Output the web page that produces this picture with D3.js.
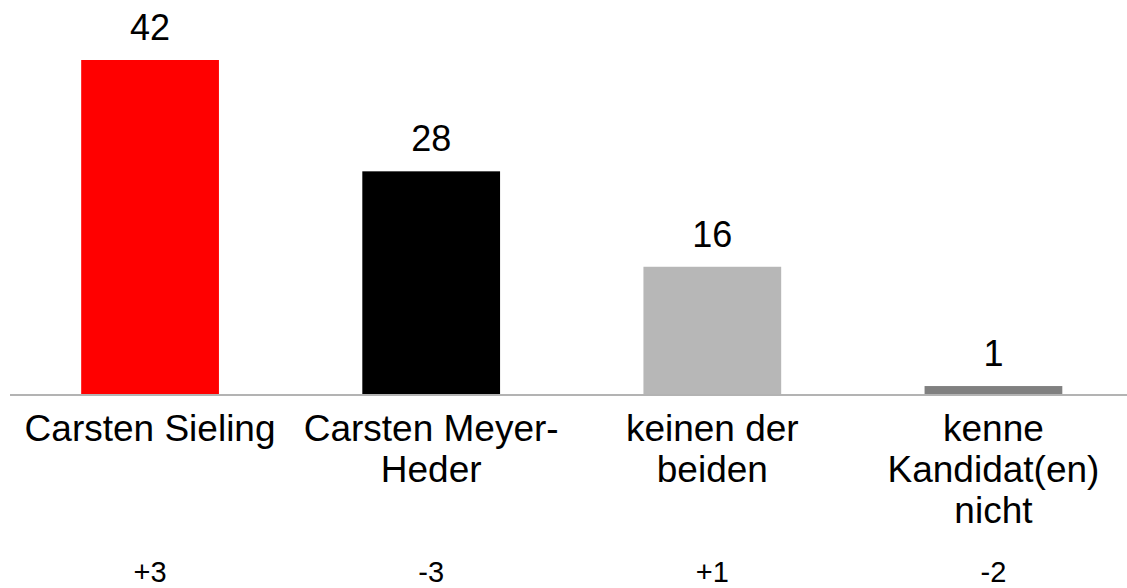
<!DOCTYPE html>
<html>
<head>
<meta charset="utf-8">
<script src="https://cdn.jsdelivr.net/npm/d3@7"></script>
<style>
  body { margin: 0; background: #fff; }
  svg text { font-family: "Liberation Sans", Arial, sans-serif; fill: #000; }
</style>
</head>
<body>
<svg></svg>
<script>
const categories = ["Carsten Sieling", "Carsten Meyer-Heder", "keinen der beiden", "kenne Kandidat(en) nicht"];
const labelLines = [["Carsten Sieling"], ["Carsten Meyer-", "Heder"], ["keinen der", "beiden"], ["kenne", "Kandidat(en)", "nicht"]];
const values = [42, 28, 16, 1];
const changes = ["+3", "-3", "+1", "-2"];
const colors = ["#ff0000", "#000000", "#b7b7b7", "#808080"];

const width = 1127, height = 588;
const baseline = 394;

const svg = d3.select("svg")
    .attr("width", width)
    .attr("height", height);

const x = d3.scaleBand()
    .domain(categories)
    .range([9.5, 1134])
    .paddingInner(0.51)
    .paddingOuter(0.255);

const y = d3.scaleLinear()
    .domain([0, 42])
    .range([baseline, 60]);

// bars
svg.append("g")
    .selectAll("rect")
    .data(values)
    .enter()
    .append("rect")
    .attr("x", (d, i) => x(categories[i]))
    .attr("y", d => y(d))
    .attr("width", x.bandwidth())
    .attr("height", d => y(0) - y(d))
    .attr("fill", (d, i) => colors[i]);

// baseline
svg.append("line")
    .attr("x1", 10)
    .attr("x2", width)
    .attr("y1", baseline + 1)
    .attr("y2", baseline + 1)
    .attr("stroke", "#b3b3b3")
    .attr("stroke-width", 2);

// value labels
svg.append("g")
    .selectAll("text")
    .data(values)
    .enter()
    .append("text")
    .attr("x", (d, i) => x(categories[i]) + x.bandwidth() / 2)
    .attr("y", d => y(d) - 20)
    .attr("text-anchor", "middle")
    .style("font-size", "36px")
    .text(d => d);

// category labels
const cat = svg.append("g")
    .selectAll("text")
    .data(labelLines)
    .enter()
    .append("text")
    .attr("text-anchor", "middle")
    .style("font-size", "37px");

cat.selectAll("tspan")
    .data((lines, i) => lines.map(l => ({ l, i })))
    .enter()
    .append("tspan")
    .attr("x", d => x(categories[d.i]) + x.bandwidth() / 2)
    .attr("y", (d, j) => 441 + j * 41)
    .text(d => d.l);

// change labels
svg.append("g")
    .selectAll("text")
    .data(changes)
    .enter()
    .append("text")
    .attr("x", (d, i) => x(categories[i]) + x.bandwidth() / 2)
    .attr("y", 582)
    .attr("text-anchor", "middle")
    .style("font-size", "29px")
    .text(d => d);
</script>
</body>
</html>
